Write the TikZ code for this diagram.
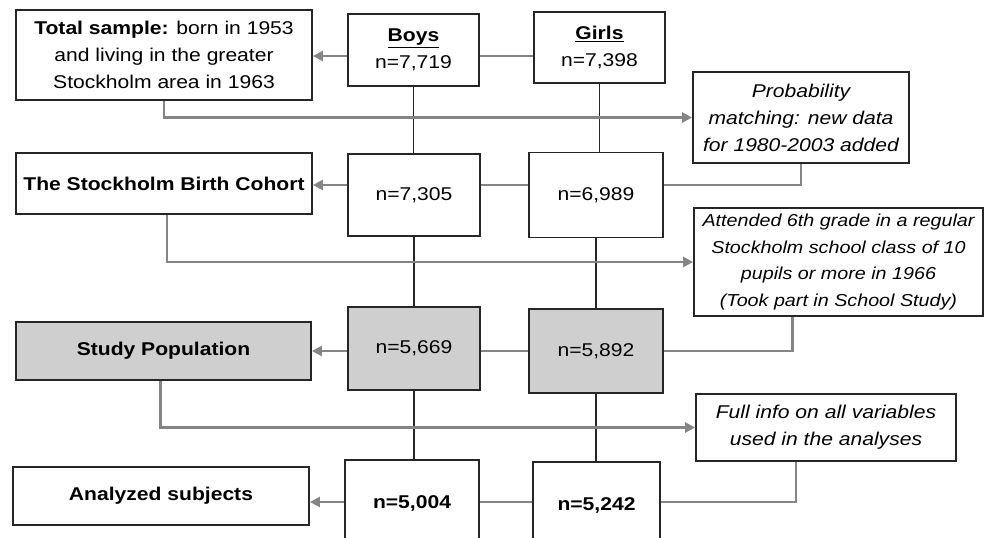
\documentclass[tikz,border=0pt]{standalone}
\usepackage{fontspec}
\setmainfont{Liberation Sans}[FakeStretch=1.14]
\usepackage{xcolor}
\colorlet{colorFrame}{black!85}
\colorlet{colorLink}{black!48}
\colorlet{colorShade}{black!19}
\usetikzlibrary{arrows.meta, positioning}

\begin{document}
\begin{tikzpicture}[x=1pt, y=-1pt, >={Triangle[length=10pt,width=10pt]},
  every node/.style={font=\fontsize{18.5}{27}\selectfont, align=center, inner sep=0pt},
  box/.style 2 args={draw=colorFrame, line width=1.8pt, fill=white, minimum width=#1, minimum height=#2},
  shaded/.style={fill=colorShade},
  note/.style={font=\fontsize{18.5}{27}\selectfont\itshape},
  stem/.style={draw=colorFrame, line width=1.8pt},
  side/.style={draw=colorLink, line width=2.4pt}]
\useasboundingbox (0,0) rectangle (986,538);
\clip (0,0) rectangle (986,538);
\coordinate (r1) at (0,56);
\coordinate (r2) at (0,185);
\coordinate (r3) at (0,351);
\coordinate (r4) at (0,502);
\node[box={296}{90}] (total) at (164,55) {\textbf{Total sample:} born in 1953\\and living in the greater\\Stockholm area in 1963};
\node[box={131}{72}] (boys1) at (413.5,50) {\underline{\textbf{Boys}}\\n=7,719};
\node[box={131}{71}] (girls1) at (599.5,47.5) {\underline{\textbf{Girls}}\\n=7,398};
\node[box={216}{91}, note] (prob) at (801,117.5) {Probability\\matching: new data\\for 1980-2003 added};
\node[box={296}{61}] (cohort) at (164,183.5) {\textbf{The Stockholm Birth Cohort}};
\node[box={132}{82}] (boys2) at (414,195) {n=7,305};
\node[box={134}{85}] (girls2) at (596,195) {n=6,989};
\node[box={289}{108}, note, font=\fontsize{17.3}{26.7}\selectfont\itshape] (attend) at (838.5,262) {Attended 6th grade in a regular\\Stockholm school class of 10\\pupils or more in 1966\\(Took part in School Study)};
\node[box={295}{58}, shaded] (study) at (163.5,351) {\textbf{Study Population}};
\node[box={132}{83}, shaded] (boys3) at (414,348.5) {n=5,669};
\node[box={134}{84}, shaded] (girls3) at (596,351) {n=5,892};
\node[box={260}{67}, note] (full) at (826,427.5) {Full info on all variables\\used in the analyses};
\node[box={296}{58}] (analyzed) at (161,496) {\textbf{Analyzed subjects}};
\node[box={134}{86}] (boys4) at (412,503) {\textbf{n=5,004}};
\node[box={127}{86}] (girls4) at (596.5,505) {\textbf{n=5,242}};
\draw[stem] (boys1.south) -- (boys1.south |- boys2.north);
\draw[stem] (boys2.south) -- (boys2.south |- boys3.north);
\draw[stem] (boys3.south) -- (boys3.south |- boys4.north);
\draw[stem] (girls1.south) -- (girls1.south |- girls2.north);
\draw[stem] (girls2.south) -- (girls2.south |- girls3.north);
\draw[stem] (girls3.south) -- (girls3.south |- girls4.north);
\draw[side] (girls1.west |- r1) -- (boys1.east |- r1);
\draw[side, ->] (boys1.west |- r1) -- (total.east |- r1);
\draw[side, ->] (total.south) |- (prob.west);
\draw[side] (prob.south) |- (girls2.east |- r2);
\draw[side] (girls2.west |- r2) -- (boys2.east |- r2);
\draw[side, ->] (boys2.west |- r2) -- (cohort.east |- r2);
\draw[side, ->] ([xshift=3pt]cohort.south) |- (attend.west);
\draw[side] ([xshift=-46pt]attend.south) |- (girls3.east |- r3);
\draw[side] (girls3.west |- r3) -- (boys3.east |- r3);
\draw[side, ->] (boys3.west |- r3) -- (study.east |- r3);
\draw[side, ->] ([xshift=-3pt]study.south) |- (full.west);
\draw[side] ([xshift=-30pt]full.south) |- (girls4.east |- r4);
\draw[side] (girls4.west |- r4) -- (boys4.east |- r4);
\draw[side, ->] (boys4.west |- r4) -- (analyzed.east |- r4);
\end{tikzpicture}
\end{document}
